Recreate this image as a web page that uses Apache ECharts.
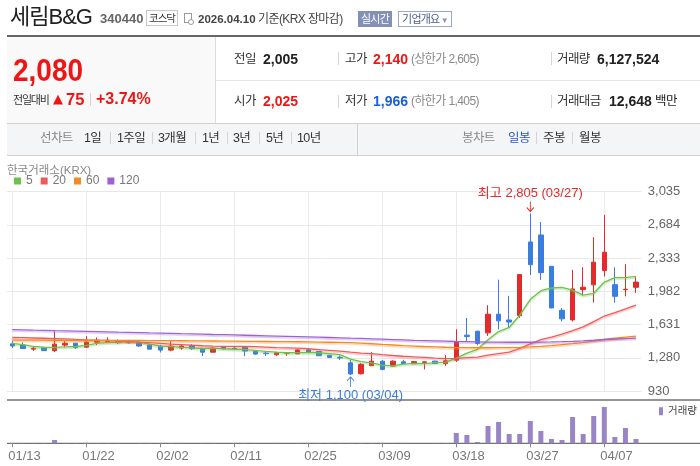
<!DOCTYPE html>
<html><head><meta charset="utf-8">
<script src="https://cdn.jsdelivr.net/npm/echarts@6/dist/echarts.min.js"></script>
<style>
html,body{margin:0;padding:0;width:700px;height:466px;overflow:hidden;background:#fff;font-family:"Liberation Sans",Arial,"Noto Sans CJK KR",sans-serif;}
#chart{position:absolute;left:0;top:0;width:700px;height:466px;}
#hdr{position:absolute;left:0;top:0;width:700px;height:160px;z-index:5;pointer-events:none;}
.t{position:absolute;white-space:nowrap;line-height:20px;height:20px;}
.k{letter-spacing:-0.6px;}
.b{font-weight:bold;}
.sep{position:absolute;width:1px;background:#d4d4d4;}
.box{position:absolute;box-sizing:border-box;text-align:center;white-space:nowrap;}
</style></head>
<body>
<div id="chart"></div>
<div id="hdr">
  <div class="t" style="left:10px;top:4px;font-size:22px;line-height:26px;height:26px;letter-spacing:-1px;color:#222;">세림B&amp;G</div>
  <div class="t b" style="left:100px;top:9px;font-size:13px;color:#666;">340440</div>
  <div class="box" style="left:146px;top:10px;width:32px;height:16px;border:1px solid #c8c8c8;font-size:10.5px;line-height:14px;letter-spacing:-1px;color:#333;">코스닥</div>
  <div class="box" style="left:184px;top:13px;width:8px;height:10px;border:1px solid #9a9a9a;"></div>
  <div class="box" style="left:188px;top:19px;width:6px;height:6px;border:1px solid #9a9a9a;border-radius:50%;background:#fff;"></div>
  <div class="t b" style="left:198px;top:8.5px;font-size:11.5px;color:#444;">2026.04.10</div>
  <div class="t k" style="left:258px;top:8.5px;font-size:12px;color:#444;">기준(KRX 장마감)</div>
  <div class="box" style="left:358px;top:11px;width:34px;height:16px;background:#8391b6;color:#fff;font-size:11px;line-height:16px;letter-spacing:-0.8px;">실시간</div>
  <div class="box" style="left:398px;top:11px;width:54px;height:16px;border:1px solid #9aa7c9;color:#4c5a8a;font-size:11px;line-height:14px;letter-spacing:-0.8px;">기업개요<span style="color:#8a96b8;font-size:8px;"> ▼</span></div>

  <div style="position:absolute;left:7px;top:35px;width:693px;height:2px;background:#666;"></div>
  <div style="position:absolute;left:7px;top:37px;width:208px;height:86px;background:#f9f9f9;border-right:1px solid #dcdcdc;"></div>
  <div style="position:absolute;left:216px;top:80px;width:484px;height:1px;background:#e6e6e6;"></div>

  <div class="t b" style="left:13px;top:55px;font-size:32px;line-height:30px;height:30px;color:#f01515;transform:scaleX(0.875);transform-origin:left center;">2,080</div>
  <div class="t" style="left:13px;top:89.5px;font-size:11px;letter-spacing:-1.2px;color:#333;">전일대비</div>
  <div class="t" style="left:53px;top:89px;font-size:13px;color:#f01515;font-family:'DejaVu Sans';">▲</div>
  <div class="t b" style="left:66px;top:89px;font-size:16.5px;color:#f01515;">75</div>
  <div class="sep" style="left:90px;top:93px;height:13px;"></div>
  <div class="t b" style="left:96px;top:89px;font-size:16px;color:#f01515;">+3.74%</div>

  <div class="t k" style="left:234px;top:48.5px;font-size:12.5px;color:#333;">전일</div>
  <div class="t b" style="left:263px;top:48.5px;font-size:14px;color:#222;">2,005</div>
  <div class="sep" style="left:338px;top:52px;height:13px;"></div>
  <div class="t k" style="left:345px;top:48.5px;font-size:12.5px;color:#333;">고가</div>
  <div class="t b" style="left:373px;top:48.5px;font-size:14px;color:#f01515;">2,140</div>
  <div class="t k" style="left:411px;top:48.5px;font-size:12px;color:#888;">(상한가 2,605)</div>
  <div class="sep" style="left:551px;top:52px;height:13px;"></div>
  <div class="t k" style="left:557px;top:48.5px;font-size:12.5px;color:#333;">거래량</div>
  <div class="t b" style="left:597px;top:48.5px;font-size:14px;color:#222;">6,127,524</div>

  <div class="t k" style="left:234px;top:91px;font-size:12.5px;color:#333;">시가</div>
  <div class="t b" style="left:263px;top:91px;font-size:14px;color:#f01515;">2,025</div>
  <div class="sep" style="left:338px;top:95px;height:13px;"></div>
  <div class="t k" style="left:345px;top:91px;font-size:12.5px;color:#333;">저가</div>
  <div class="t b" style="left:373px;top:91px;font-size:14px;color:#1a5fd6;">1,966</div>
  <div class="t k" style="left:411px;top:91px;font-size:12px;color:#888;">(하한가 1,405)</div>
  <div class="sep" style="left:551px;top:95px;height:13px;"></div>
  <div class="t k" style="left:557px;top:91px;font-size:12.5px;color:#333;">거래대금</div>
  <div class="t b" style="left:609px;top:91px;font-size:14px;color:#222;">12,648</div>
  <div class="t k" style="left:655px;top:91px;font-size:12.5px;color:#222;">백만</div>

  <div style="position:absolute;left:7px;top:123px;width:693px;height:31px;background:#f4f5f7;border-top:1px solid #d0d0d0;border-bottom:1px solid #d0d0d0;"></div>
  <div style="position:absolute;left:357px;top:124px;width:1px;height:31px;background:#d0d0d0;"></div>
  <div class="t k" style="left:40px;top:128px;font-size:12.5px;color:#888;">선차트</div>
  <div class="t k" style="left:84px;top:128px;font-size:12.5px;color:#333;">1일</div>
  <div class="sep" style="left:110px;top:132px;height:12px;"></div>
  <div class="t k" style="left:117px;top:128px;font-size:12.5px;color:#333;">1주일</div>
  <div class="sep" style="left:152px;top:132px;height:12px;"></div>
  <div class="t k" style="left:158px;top:128px;font-size:12.5px;color:#333;">3개월</div>
  <div class="sep" style="left:195px;top:132px;height:12px;"></div>
  <div class="t k" style="left:202px;top:128px;font-size:12.5px;color:#333;">1년</div>
  <div class="sep" style="left:227px;top:132px;height:12px;"></div>
  <div class="t k" style="left:233px;top:128px;font-size:12.5px;color:#333;">3년</div>
  <div class="sep" style="left:259px;top:132px;height:12px;"></div>
  <div class="t k" style="left:266px;top:128px;font-size:12.5px;color:#333;">5년</div>
  <div class="sep" style="left:291px;top:132px;height:12px;"></div>
  <div class="t k" style="left:297px;top:128px;font-size:12.5px;color:#333;">10년</div>
  <div class="t k" style="left:462px;top:128px;font-size:12.5px;color:#888;">봉차트</div>
  <div class="t k" style="left:508px;top:128px;font-size:12.5px;color:#2a57c5;">일봉</div>
  <div class="sep" style="left:536px;top:132px;height:12px;"></div>
  <div class="t k" style="left:543px;top:128px;font-size:12.5px;color:#333;">주봉</div>
  <div class="sep" style="left:572px;top:132px;height:12px;"></div>
  <div class="t k" style="left:579px;top:128px;font-size:12.5px;color:#333;">월봉</div>
</div>
<script>
const dates = ['01/13','01/14','01/15','01/16','01/19','01/20','01/21','01/22','01/23','01/26','01/27','01/28','01/29','01/30',
 '02/02','02/03','02/04','02/05','02/06','02/09','02/10','02/11','02/12','02/13','02/19','02/20','02/23','02/24','02/25','02/26','02/27',
 '03/03','03/04','03/05','03/06','03/09','03/10','03/11','03/12','03/13','03/16','03/17','03/18','03/19','03/20','03/23','03/24','03/25','03/26','03/27','03/30','03/31',
 '04/01','04/02','04/03','04/06','04/07','04/08','04/09','04/10'];
const opens = [1428,1417,1372,1386,1356,1415,1435,1393,1445,1446,1460,1450,1438,1417,1404,1362,1383,1410,1379,1340,
 1395,1382,1390,1350,1330,1313,1330,1322,1364,1348,1308,1285,1228,1112,1197,1245,1193,1238,1218,1233,
 1245,1218,1256,1520,1562,1544,1741,1680,1727,2504,2578,2247,1783,1681,2001,2051,2202,2053,2000,2025];
const closes = [1405,1378,1382,1356,1425,1434,1388,1446,1466,1467,1440,1440,1405,1372,1362,1404,1405,1377,1340,1382,
 1375,1377,1352,1320,1324,1333,1336,1364,1338,1302,1285,1278,1110,1212,1245,1158,1245,1218,1240,1238,
 1220,1249,1449,1505,1432,1741,1671,1658,2160,2264,2180,1807,1692,2008,2026,2291,2396,1930,2005,2080];
const lows = [1385,1375,1354,1354,1343,1390,1375,1386,1415,1435,1428,1430,1396,1370,1337,1350,1365,1365,1298,1338,
 1370,1370,1298,1313,1301,1301,1301,1320,1334,1300,1284,1259,1100,1105,1195,1155,1190,1215,1215,1158,
 1215,1196,1238,1449,1414,1512,1580,1597,1702,2155,2103,1805,1667,1664,1940,1863,2140,1863,1930,1966];
const highs = [1460,1443,1396,1395,1562,1455,1437,1509,1495,1498,1475,1470,1464,1425,1417,1456,1421,1425,1385,1393,
 1403,1393,1395,1360,1348,1344,1338,1372,1375,1350,1310,1305,1262,1225,1340,1255,1255,1260,1248,1240,
 1250,1310,1583,1702,1565,1836,2106,1936,2165,2805,2715,2250,1807,2209,2237,2554,2790,2237,2270,2140];
const ma5 = [1432,1420,1402,1392,1390,1395,1400,1412,1432,1442,1445,1453,1446,1426,1405,1398,1391,1385,1379,1382,
 1376,1371,1366,1360,1349,1341,1334,1336,1339,1334,1324,1314,1266,1240,1228,1203,1196,1214,1221,1220,
 1230,1235,1277,1330,1370,1472,1558,1601,1731,1898,1990,2018,2024,1996,1943,1962,2081,2127,2128,2140];
const ma20 = [1495,1493,1490,1487,1484,1480,1476,1470,1466,1462,1458,1452,1446,1440,1432,1426,1420,1414,1408,1404,
 1402,1401,1400,1398,1394,1389,1386,1382,1376,1368,1360,1352,1340,1331,1324,1314,1305,1297,1291,1285,
 1278,1272,1275,1283,1288,1308,1325,1340,1381,1427,1472,1500,1530,1568,1608,1663,1722,1758,1797,1838];
const ma60 = [1467,1467,1467,1467,1466,1466,1466,1466,1465,1465,1465,1464,1464,1463,1463,1462,1461,1460,1459,1458,
 1457,1456,1455,1454,1453,1452,1451,1450,1449,1447,1445,1443,1440,1435,1429,1422,1416,1410,1405,1400,
 1396,1392,1389,1388,1387,1387,1388,1389,1391,1395,1402,1410,1420,1430,1442,1457,1474,1487,1498,1509];
const ma120 = [1578,1576,1573,1571,1568,1566,1563,1560,1557,1554,1551,1549,1546,1543,1541,1538,1535,1533,1530,1527,
 1525,1522,1519,1516,1513,1510,1507,1504,1501,1498,1495,1492,1488,1485,1481,1477,1473,1469,1465,1462,
 1459,1456,1453,1451,1449,1447,1446,1445,1445,1445,1446,1448,1451,1455,1460,1466,1474,1479,1484,1488];
const volumes = [420000,310000,180000,260000,4700000,520000,350000,610000,380000,300000,
 240000,190000,280000,330000,290000,450000,210000,230000,360000,270000,
 200000,180000,340000,260000,170000,190000,150000,280000,220000,310000,
 260000,230000,520000,410000,330000,280000,240000,190000,170000,200000,
 230000,460000,14700000,11800000,1900000,24700000,30400000,13300000,13300000,31800000,
 17500000,6100000,4700000,37500000,13300000,38900000,51700000,9000000,21800000,6127524];
const xTickLabels = ['01/13','01/22','02/02','02/11','02/25','03/09','03/18','03/27','04/07'];
const yTickLabels = [930,1280,1631,1982,2333,2684,3035];
const maNames = ['5','20','60','120'];

const RED = '#e32b2b', BLUE = '#3a7de0';
const MA_COLORS = ['#6cc34c','#ee5b5b','#f6891f','#9f60d3'];
const MA_HALO = ['rgba(108,195,76,0.4)','rgba(238,91,91,0.4)','rgba(246,137,31,0.4)','rgba(159,96,211,0.4)'];
const FONT = '"Liberation Sans", Arial, "Noto Sans CJK KR", sans-serif';
const fmt = v => v.toLocaleString('en-US');
const nearestTick = v => yTickLabels.reduce((a,b)=>Math.abs(b-v)<Math.abs(a-v)?b:a);
const isTick = (i, val) => xTickLabels.indexOf(val) >= 0;

const candle = dates.map((d,i)=>[opens[i], closes[i], lows[i], highs[i]]);
let hi = 0, lo = 0;
highs.forEach((v,i)=>{ if (v > highs[hi]) hi = i; });
lows.forEach((v,i)=>{ if (v < lows[lo]) lo = i; });

const chart = echarts.init(document.getElementById('chart'));
const maSeries = [ma5, ma20, ma60, ma120].map((arr, k) => ({
  type:'line', name: maNames[k], data: arr, xAxisIndex:0, yAxisIndex:0,
  symbol:'none', silent:true, z:3, color: MA_COLORS[k],
  lineStyle:{width:1.3, color: MA_COLORS[k], shadowColor: MA_HALO[k], shadowBlur:1, shadowOffsetY:1.5}
}));

chart.setOption({
  animation:false,
  textStyle:{fontFamily:FONT},
  title:{text:'한국거래소(KRX)', left:7, top:165, padding:0,
    textStyle:{fontSize:11.5, fontWeight:'normal', color:'#888', fontFamily:FONT}},
  legend:[
    {data:maNames, left:14, top:175, padding:0, icon:'rect', itemWidth:7, itemHeight:7, itemGap:8,
     selectedMode:false, textStyle:{fontSize:12, color:'#777', fontFamily:FONT}},
    {data:['거래량'], left:659, top:406, padding:0, icon:'rect', itemWidth:4, itemHeight:8,
     selectedMode:false, textStyle:{fontSize:10.5, color:'#444', fontFamily:FONT}}
  ],
  grid:[
    {left:7, right:58.7, top:191.7, height:199.3},
    {left:7, right:58.7, top:400, height:43.3}
  ],
  xAxis:[
    {type:'category', gridIndex:0, data:dates, boundaryGap:true,
     axisLine:{show:false}, axisTick:{show:false}, axisLabel:{show:false}, splitLine:{show:false}},
    {type:'category', gridIndex:1, data:dates, boundaryGap:true,
     axisLine:{show:false},
     axisTick:{show:true, alignWithLabel:true, interval:isTick, length:4, lineStyle:{color:'#888'}},
     axisLabel:{interval:isTick, color:'#777', fontSize:13, margin:7, align:'left', padding:[0,0,0,-4], fontFamily:FONT},
     splitLine:{show:false}}
  ],
  yAxis:[
    {type:'value', gridIndex:0, position:'right',
     min:yTickLabels[0], max:yTickLabels[yTickLabels.length-1],
     interval:(yTickLabels[yTickLabels.length-1]-yTickLabels[0])/(yTickLabels.length-1),
     axisLine:{show:false}, axisTick:{show:false},
     splitLine:{lineStyle:{color:'#e8e8e8'}},
     axisLabel:{color:'#666', fontSize:13, margin:6.5, fontFamily:FONT, formatter:v=>fmt(nearestTick(v))}},
    {type:'value', gridIndex:1, min:0, max:61700000, show:false}
  ],
  graphic:[
    {type:'line', shape:{x1:7, y1:400, x2:700, y2:400}, style:{stroke:'#707070', lineWidth:1.3}, silent:true},
    {type:'line', shape:{x1:7, y1:443.3, x2:700, y2:443.3}, style:{stroke:'#707070', lineWidth:1.3}, silent:true}
  ],
  series:[
    {type:'candlestick', name:'price', data:candle, xAxisIndex:0, yAxisIndex:0, barWidth:5, z:2,
     itemStyle:{color:RED, color0:BLUE, borderColor:RED, borderColor0:BLUE, borderWidth:1},
     markLine:{silent:true, z:1, animation:false, symbol:['none','none'], label:{show:false},
       lineStyle:{color:'#ebebeb', type:'solid', width:1},
       emphasis:{disabled:true},
       data: xTickLabels.map(d=>({xAxis:d}))},
     markPoint:{silent:true, animation:false,
       data:[
        {coord:[dates[hi], highs[hi]], symbol:'path://M4,0L4,10M0,6L4,10L8,6', symbolSize:[7,10], symbolOffset:[0,-7],
         itemStyle:{color:'rgba(0,0,0,0)', borderColor:RED, borderWidth:1},
         label:{show:true, position:'top', distance:1, color:RED, fontSize:13, fontFamily:FONT,
           formatter:'최고 ' + fmt(highs[hi]) + ' (' + dates[hi] + ')'}},
        {coord:[dates[lo], lows[lo]], symbol:'path://M4,10L4,0M0,4L4,0L8,4', symbolSize:[7,10], symbolOffset:[0,7],
         itemStyle:{color:'rgba(0,0,0,0)', borderColor:BLUE, borderWidth:1},
         label:{show:true, position:'bottom', distance:1, color:BLUE, fontSize:13, fontFamily:FONT,
           formatter:'최저 ' + fmt(lows[lo]) + ' (' + dates[lo] + ')'}}
       ]}
    },
    ...maSeries,
    {type:'bar', name:'거래량', data:volumes, xAxisIndex:1, yAxisIndex:1, barWidth:5, color:'#9985c5',
     itemStyle:{color:'#9985c5'}, silent:true}
  ]
});
</script>
</body></html>
